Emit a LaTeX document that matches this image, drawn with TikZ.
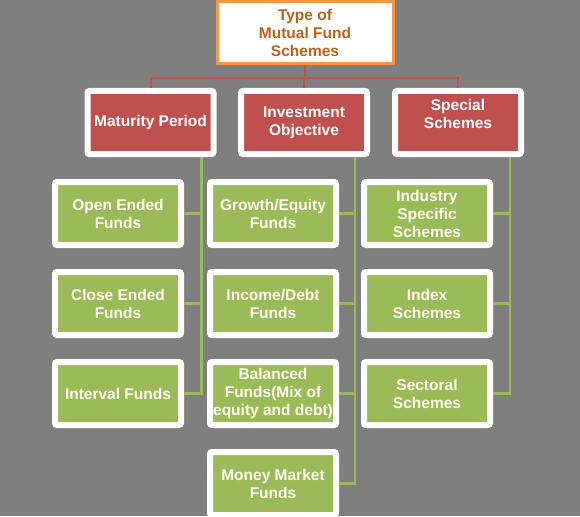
\documentclass[tikz,border=0pt]{standalone}
\usepackage{fontspec}
\setmainfont{Liberation Sans}
\usetikzlibrary{positioning}
\definecolor{bggray}{RGB}{127,127,127}
\definecolor{boxred}{RGB}{192,80,77}
\definecolor{boxgreen}{RGB}{155,187,89}
\definecolor{headline}{RGB}{247,150,70}
\definecolor{headtext}{RGB}{186,98,26}
\tikzset{
  box/.style={draw=white, line width=6pt, rounded corners=2pt,
    minimum width=126pt, minimum height=63pt, inner sep=0pt, align=center,
    font=\fontsize{15.5}{18}\selectfont\bfseries},
  catbox/.style={box, fill=boxred, text=white},
  fundbox/.style={box, fill=boxgreen, text=white!94!yellow},
  headbox/.style={draw=headline, line width=3pt, fill=white, text=headtext,
    minimum width=176pt, minimum height=62pt, inner sep=0pt, align=center,
    font=\fontsize{15.5}{18}\selectfont\bfseries},
  redline/.style={draw=boxred, line width=2pt},
  greenline/.style={draw=boxgreen, line width=2.5pt}
}

\begin{document}
\begin{tikzpicture}[x=1pt, y=1pt]
    \fill[bggray] (0,0) rectangle (580,-516);
    \clip (0,0) rectangle (580,-516);
    \useasboundingbox (0,0) rectangle (580,-516);

    \node[headbox] (head) at (305,-32.5) {Type of\\Mutual Fund\\Schemes};

    \node[catbox] (mat) at (150.5,-122.5) {Maturity Period};
    \node[catbox] (inv) at (304,-122.5) {Investment\\Objective};
    \node[catbox, text depth=18pt] (spe) at (458,-122.5) {Special\\Schemes};

    % maturity period
    \node[fundbox] (open) at (118,-213.5) {Open Ended\\Funds};
    \node[fundbox, below=21pt of open] (close) {Close Ended\\Funds};
    \node[fundbox, below=21pt of close] (intv) {Interval Funds};

    % investment objective
    \node[fundbox] (grow) at (273,-213.5) {Growth/Equity\\Funds};
    \node[fundbox, below=21pt of grow] (inc) {Income/Debt\\Funds};
    \node[fundbox, below=21pt of inc] (bal) {Balanced\\Funds(Mix of\\equity and debt)};
    \node[fundbox, below=21pt of bal] (money) {Money Market\\Funds};

    % special schemes
    \node[fundbox] (ind) at (427,-213.5) {Industry\\Specific\\Schemes};
    \node[fundbox, below=21pt of ind] (idx) {Index\\Schemes};
    \node[fundbox, below=21pt of idx] (sec) {Sectoral\\Schemes};

    \draw[redline] (head.south) -- ++(0,-13) coordinate (bus);
    \draw[redline] (mat.north) |- (bus) -| (spe.north);
    \draw[redline] (bus) -| (inv.north);

    \foreach \n in {open,close,intv}
      \draw[greenline] ([xshift=-15pt]mat.south east) |- (\n.east);
    \foreach \n in {grow,inc,bal,money}
      \draw[greenline] ([xshift=-15pt]inv.south east) |- (\n.east);
    \foreach \n in {ind,idx,sec}
      \draw[greenline] ([xshift=-14pt]spe.south east) |- (\n.east);
\end{tikzpicture}
\end{document}
